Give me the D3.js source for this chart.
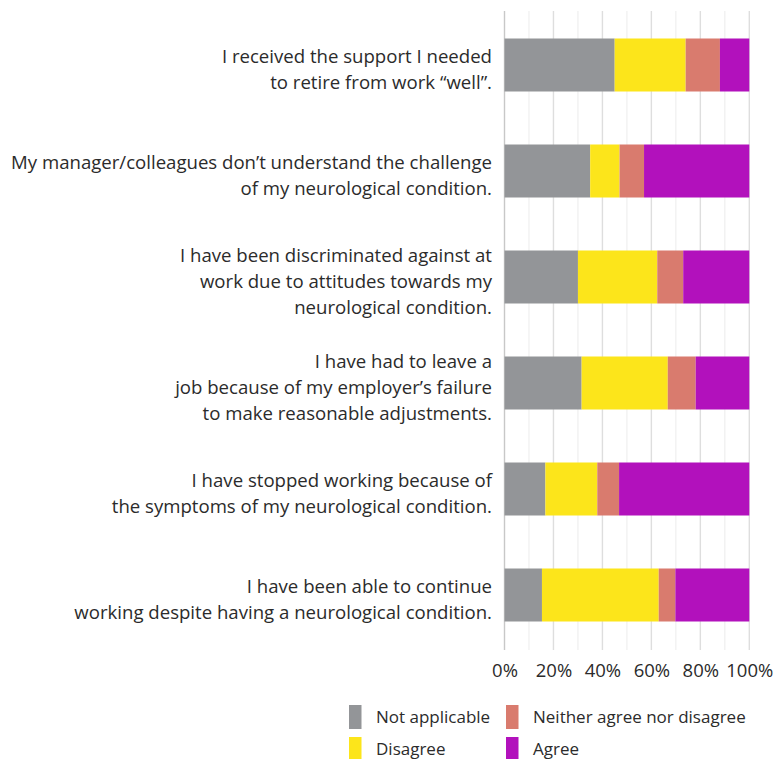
<!DOCTYPE html>
<html><head><meta charset="utf-8">
<script src="https://cdn.jsdelivr.net/npm/d3@7"></script>
<style>body{margin:0;background:#fff;} svg{display:block;font-family:"Open Sans", Roboto, sans-serif;}</style>
</head><body>
<svg id="c" width="774" height="759"></svg>
<script>
const categories = [
  ["I received the support I needed", "to retire from work \u201cwell\u201d."],
  ["My manager/colleagues don\u2019t understand the challenge", "of my neurological condition."],
  ["I have been discriminated against at", "work due to attitudes towards my", "neurological condition."],
  ["I have had to leave a", "job because of my employer\u2019s failure", "to make reasonable adjustments."],
  ["I have stopped working because of", "the symptoms of my neurological condition."],
  ["I have been able to continue", "working despite having a neurological condition."]
];
const seriesNames = ["Not applicable", "Disagree", "Neither agree nor disagree", "Agree"];
const notApplicable = [45, 35, 30, 31.5, 16.7, 15.3];
const disagree      = [29, 12, 32.4, 35.2, 21.2, 47.7];
const neither       = [14, 10, 10.6, 11.4, 8.9, 6.8];
const agree         = [12, 43, 27, 21.9, 53.2, 30.2];
const tickValues = [0, 20, 40, 60, 80, 100];
const colors = ["#939598", "#fce51b", "#d97b6e", "#b211bc"];

const svg = d3.select("#c");
const x = d3.scaleLinear().domain([0, 100]).range([504.5, 749.3]);
const y = d3.scaleBand().domain(d3.range(categories.length)).range([12, 648]).paddingInner(0.5).paddingOuter(0.25);

// gridlines
const g = svg.append("g");
g.selectAll("line.minor").data(d3.range(10, 100, 20)).join("line")
  .attr("x1", d => x(d)).attr("x2", d => x(d)).attr("y1", 11).attr("y2", 650)
  .attr("stroke", "#efefef").attr("stroke-width", 1.2);
g.selectAll("line.major").data(tickValues).join("line")
  .attr("x1", d => x(d)).attr("x2", d => x(d)).attr("y1", 11).attr("y2", 650)
  .attr("stroke", d => d === 0 ? "#c8c8c8" : "#dedede").attr("stroke-width", 1.4);

// stacked bars
const rows = categories.map((c, i) => ({i, vals: [notApplicable[i], disagree[i], neither[i], agree[i]]}));
const stackData = rows.map(r => { const o = {i: r.i}; seriesNames.forEach((s, k) => o[s] = r.vals[k]); return o; });
const stack = d3.stack().keys(seriesNames)(stackData);
svg.append("g").selectAll("g").data(stack).join("g")
  .attr("fill", (d, k) => colors[k])
  .selectAll("rect").data(d => d).join("rect")
  .attr("x", d => x(d[0])).attr("width", d => x(Math.min(d[1], 100)) - x(d[0]))
  .attr("y", (d, j) => y(j)).attr("height", y.bandwidth());

// category labels
const lh = 26;
categories.forEach((lines, i) => {
  const cy = y(i) + y.bandwidth() / 2 + 5;
  const t = svg.append("text").attr("text-anchor", "end").attr("fill", "#2b2b2b")
    .attr("font-size", 18.6);
  lines.forEach((ln, k) => {
    t.append("tspan").attr("x", 492)
      .attr("y", cy + (k - (lines.length - 1) / 2) * lh + 6).text(ln);
  });
});

// x axis tick labels
svg.append("g").attr("transform", "translate(0,677)")
  .call(d3.axisBottom(x).tickValues(tickValues).tickFormat(d => d + "%").tickSize(0).tickPadding(0))
  .call(a => a.select(".domain").remove())
  .call(a => a.selectAll("text").attr("dy", 0).attr("font-size", 18.5).attr("fill", "#2b2b2b").attr("font-family", "'Open Sans', sans-serif"));

// legend
const legPos = [[349, 705], [506, 705], [349, 737], [506, 737]];
const legOrder = [0, 2, 1, 3];
legOrder.forEach((k, j) => {
  const [lx, ly] = legPos[j];
  svg.append("rect").attr("x", lx).attr("y", ly).attr("width", 12.5).attr("height", 24).attr("fill", colors[k]);
  svg.append("text").attr("x", lx + 27).attr("y", ly + 18).attr("font-size", 17).attr("fill", "#2b2b2b").text(seriesNames[k]);
});
</script>
</body></html>
